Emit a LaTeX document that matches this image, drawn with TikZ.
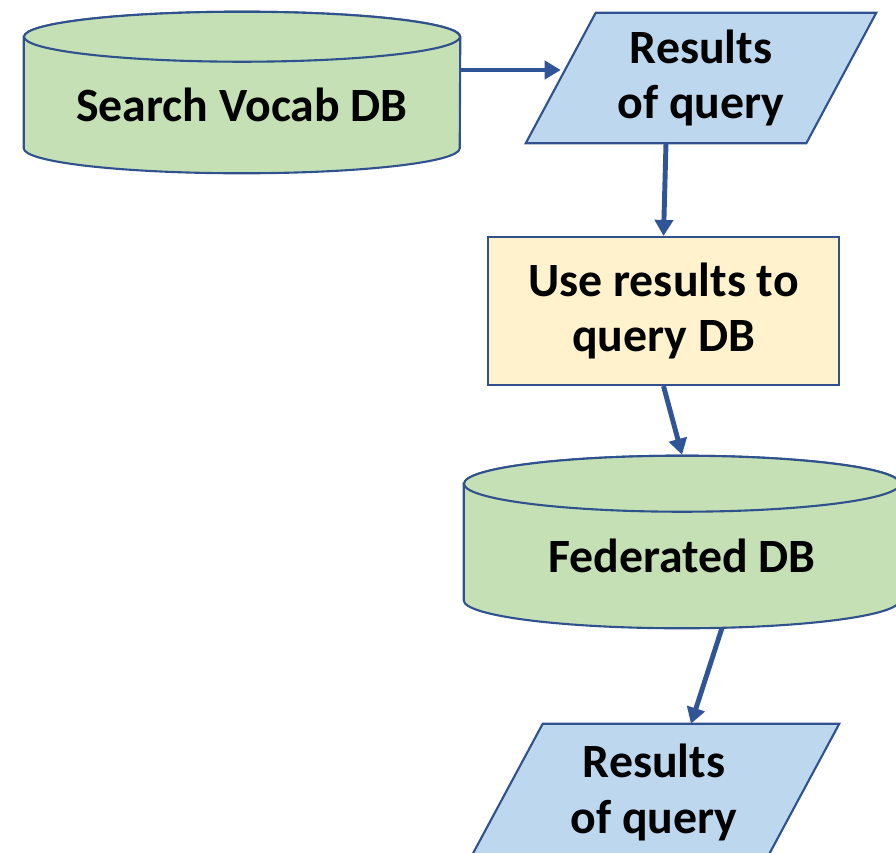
\documentclass[tikz,border=0pt]{standalone}
\usepackage{fontspec}
\setmainfont{Carlito}
\usepackage{xcolor}
\usepackage{tikz}
\usetikzlibrary{positioning, arrows.meta, backgrounds}
\definecolor{edge}{HTML}{2F528F}
\definecolor{flow}{HTML}{2F5597}
\definecolor{dbgreen}{HTML}{C5E0B4}
\definecolor{outblue}{HTML}{BDD7EE}
\definecolor{stepyel}{HTML}{FFF2CC}

\begin{document}
\begin{tikzpicture}[
  txt/.style={font=\fontsize{34}{39.8}\selectfont\bfseries, align=center, text=black, inner sep=0pt},
  db/.style={txt, rectangle, minimum width=10.9cm},
  dbbox/.style={draw=edge, line width=1.5pt, fill=dbgreen},
  io/.style={txt, rectangle, minimum width=7cm, minimum height=3.25cm},
  iobox/.style={draw=edge, line width=1.5pt, fill=outblue, line join=miter},
  act/.style={txt, rectangle, draw=edge, line width=1.5pt, fill=stepyel,
              minimum width=8.775cm, minimum height=3.7cm},
  arr/.style={-{Triangle[length=0.4cm,width=0.45cm]}, line width=3.5pt, draw=flow}
]
  \useasboundingbox (0,0) rectangle (22.4,-21.3);

  \node[db, minimum height=2.15cm] (vocab) at (6.05,-2.625) {Search Vocab DB};
  \node[io] (res1) at (17.525,-1.95) {Results\\of query};
  \node[act] (use) at (16.5875,-7.775) {Use results to\\query DB};
  \node[db, minimum height=2.2cm] (fed) at (17.05,-13.9) {Federated DB};
  \node[io, minimum width=7.4cm, minimum height=3.425cm] (res2) at (16.35,-19.8125) {Results\\of query};

  % drums and slanted boxes behind the text
  \begin{scope}[on background layer]
    \draw[dbbox] ([yshift=0.625cm]vocab.north west) -- (vocab.south west)
      arc[start angle=180, end angle=360, x radius=5.45cm, y radius=0.625cm]
      -- ([yshift=0.625cm]vocab.north east)
      arc[start angle=0, end angle=180, x radius=5.45cm, y radius=0.625cm] -- cycle;
    \draw[dbbox] ([yshift=0.625cm]vocab.north) ellipse[x radius=5.45cm, y radius=0.625cm];

    \draw[dbbox] ([yshift=0.7cm]fed.north west) -- (fed.south west)
      arc[start angle=180, end angle=360, x radius=5.45cm, y radius=0.7cm]
      -- ([yshift=0.7cm]fed.north east)
      arc[start angle=0, end angle=180, x radius=5.45cm, y radius=0.7cm] -- cycle;
    \draw[dbbox] ([yshift=0.7cm]fed.north) ellipse[x radius=5.45cm, y radius=0.7cm];

    \draw[iobox] ([xshift=0.875cm]res1.north west) -- ([xshift=0.875cm]res1.north east)
      -- ([xshift=-0.875cm]res1.south east) -- ([xshift=-0.875cm]res1.south west) -- cycle;
    \draw[iobox] ([xshift=0.925cm]res2.north west) -- ([xshift=0.925cm]res2.north east)
      -- ([xshift=-0.925cm]res2.south east) -- ([xshift=-0.925cm]res2.south west) -- cycle;
  \end{scope}

  \draw[arr] ([yshift=0.875cm]vocab.east) -- ([yshift=0.2cm]res1.west);
  \draw[arr] ([xshift=-0.875cm]res1.south) -- (use.north);
  \draw[arr] (use.south) -- ([yshift=1.425cm]fed.north);
  \draw[arr] ([xshift=1cm, yshift=-0.69cm]fed.south) -- ([xshift=0.925cm]res2.north);
\end{tikzpicture}
\end{document}
